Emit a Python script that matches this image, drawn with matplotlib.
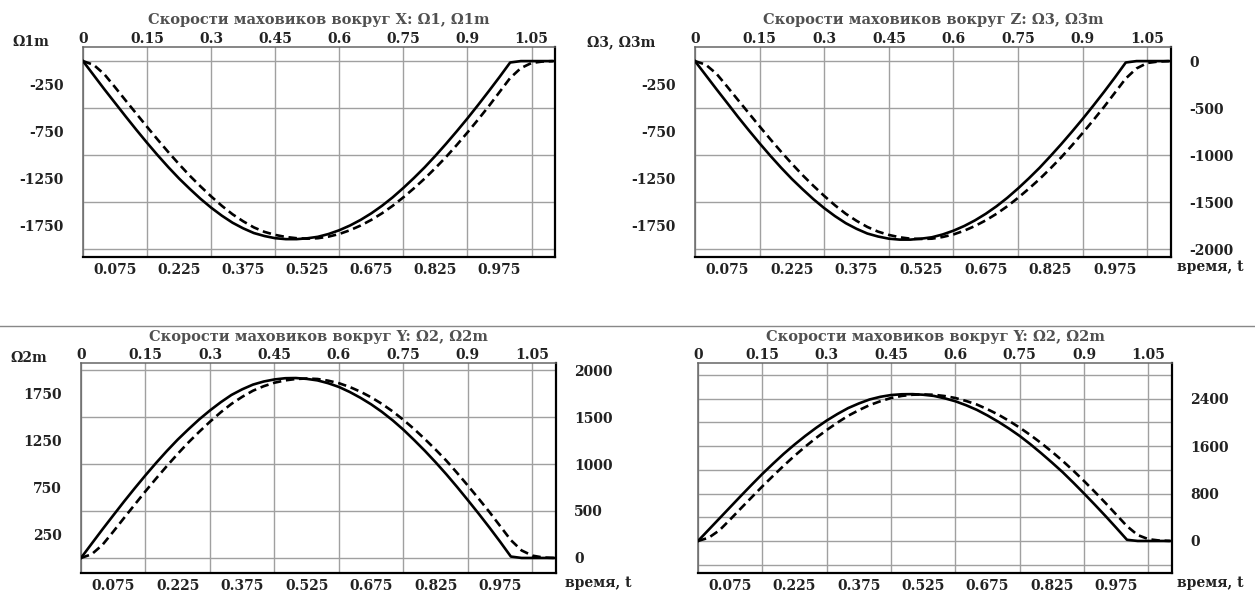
import matplotlib
matplotlib.use("Agg")
import matplotlib.pyplot as plt
from matplotlib.lines import Line2D

plt.rcParams['font.family'] = ['DejaVu Serif']
plt.rcParams['font.weight'] = 'bold'

# time samples, every 0.025 from 0 to 1.1
t = [round(i * 0.025, 3) for i in range(45)]

# X: Omega1 (solid) and Omega1m (dashed)
w1 = [0, -150, -300, -445, -590, -732, -870, -1003, -1130, -1250, -1360, -1465,
      -1560, -1645, -1720, -1780, -1830, -1862, -1885, -1895, -1895, -1886, -1870,
      -1840, -1800, -1750, -1690, -1620, -1540, -1450, -1350, -1243, -1130, -1008,
      -880, -747, -610, -467, -320, -170, -15, 0, 0, 0, 0]
w1m = [0, -40, -140, -278, -420, -560, -700, -837, -970, -1098, -1220, -1333,
       -1440, -1540, -1630, -1705, -1770, -1818, -1850, -1872, -1885, -1890, -1885,
       -1868, -1840, -1800, -1750, -1690, -1620, -1540, -1450, -1353, -1250, -1138,
       -1020, -893, -760, -622, -480, -330, -180, -75, -20, -5, 0]

# Z: Omega3 (solid) and Omega3m (dashed)
w3 = [0, -150, -300, -447, -595, -737, -875, -1008, -1135, -1255, -1365, -1470,
      -1565, -1650, -1725, -1785, -1835, -1867, -1890, -1900, -1900, -1890, -1875,
      -1845, -1805, -1755, -1695, -1625, -1545, -1455, -1355, -1248, -1135, -1012,
      -885, -752, -615, -472, -325, -173, -15, 0, 0, 0, 0]
w3m = [0, -38, -135, -273, -415, -555, -695, -832, -965, -1093, -1215, -1328,
       -1435, -1535, -1625, -1700, -1765, -1815, -1850, -1875, -1890, -1893, -1890,
       -1872, -1845, -1805, -1755, -1695, -1625, -1545, -1455, -1358, -1255, -1143,
       -1025, -898, -765, -627, -485, -335, -185, -78, -20, -5, 0]

# Y: Omega2 (solid) and Omega2m (dashed), left bottom chart
w2 = [0, 153, 305, 453, 600, 742, 880, 1013, 1140, 1260, 1370, 1475,
      1570, 1657, 1735, 1795, 1845, 1878, 1900, 1913, 1915, 1906, 1890,
      1860, 1820, 1767, 1705, 1635, 1555, 1465, 1365, 1255, 1140, 1018,
      890, 755, 615, 472, 325, 173, 15, 0, 0, 0, 0]
w2m = [0, 40, 140, 280, 425, 568, 710, 847, 980, 1108, 1230, 1343,
       1450, 1550, 1640, 1715, 1780, 1828, 1865, 1890, 1905, 1910, 1905,
       1887, 1860, 1820, 1770, 1710, 1640, 1560, 1470, 1372, 1265, 1153,
       1035, 905, 770, 632, 490, 340, 190, 80, 25, 5, 0]

# Y: second version, right bottom chart
w2b = [0, 190, 380, 570, 760, 947, 1130, 1303, 1470, 1625, 1770, 1905,
       2030, 2140, 2240, 2318, 2385, 2430, 2460, 2473, 2475, 2465, 2445,
       2405, 2355, 2288, 2210, 2115, 2010, 1895, 1770, 1630, 1480, 1323,
       1160, 983, 800, 612, 420, 222, 20, 0, 0, 0, 0]
w2bm = [0, 55, 180, 362, 550, 735, 920, 1097, 1270, 1435, 1590, 1735,
        1870, 1995, 2110, 2205, 2290, 2355, 2410, 2445, 2465, 2470, 2465,
        2443, 2410, 2360, 2300, 2220, 2130, 2025, 1910, 1785, 1650, 1505,
        1350, 1185, 1010, 828, 640, 445, 250, 100, 30, 8, 0]

top_ticks = [0, 0.15, 0.3, 0.45, 0.6, 0.75, 0.9, 1.05]
top_labels = ["0", "0.15", "0.3", "0.45", "0.6", "0.75", "0.9", "1.05"]
bottom_ticks = [0.075, 0.225, 0.375, 0.525, 0.675, 0.825, 0.975]
bottom_labels = ["0.075", "0.225", "0.375", "0.525", "0.675", "0.825", "0.975"]
grid_x = [i * 0.075 for i in range(15)]

titles = ["Скорости маховиков вокруг X: Ω1, Ω1m",
          "Скорости маховиков вокруг Z: Ω3, Ω3m",
          "Скорости маховиков вокруг Y: Ω2, Ω2m",
          "Скорости маховиков вокруг Y: Ω2, Ω2m"]

W, H = 1255, 591
fig = plt.figure(figsize=(W / 100, H / 100), dpi=100)
TXT = '#222222'
FS = 10


def rect(x0, x1, y0, y1):
    return [x0 / W, 1 - y1 / H, (x1 - x0) / W, (y1 - y0) / H]


def panel(r, solid, dashed, ylim, grid_y, left, right):
    ax = fig.add_axes(r)
    ax.plot(t, solid, color='black', lw=1.9, solid_joinstyle='round', zorder=3)
    ax.plot(t, dashed, color='black', lw=1.9, ls=(0, (3.2, 1.8)), zorder=3)
    ax.set_xlim(0, 1.105)
    ax.set_ylim(*ylim)
    ax.set_xticks(grid_x, minor=True)
    ax.set_yticks(grid_y, minor=True)
    ax.grid(which='minor', color='#a0a0a0', lw=1.0)
    ax.set_xticks(bottom_ticks, bottom_labels)
    if left:
        ax.set_yticks(left, [str(v) for v in left])
    else:
        ax.set_yticks([])
    ax.tick_params(which='both', length=0, labelsize=FS, labelcolor=TXT)
    ax.tick_params(axis='x', pad=4)
    ax.tick_params(axis='y', pad=14)
    for s in ('left', 'top'):
        ax.spines[s].set_color('#666666')
        ax.spines[s].set_linewidth(1.1)
    for s in ('right', 'bottom'):
        ax.spines[s].set_color('black')
        ax.spines[s].set_linewidth(1.6)
    sx = ax.secondary_xaxis('top')
    sx.set_xticks(top_ticks, top_labels)
    sx.tick_params(length=0, pad=1, labelsize=FS, labelcolor=TXT)
    sx.spines['top'].set_visible(False)
    if right:
        sy = ax.secondary_yaxis('right')
        sy.set_yticks(right, [str(v) for v in right])
        sy.tick_params(length=0, pad=13, labelsize=FS, labelcolor=TXT)
        sy.spines['right'].set_visible(False)
    return ax


top_grid = list(range(-2000, 1, 250))
ax1 = panel(rect(83, 555, 47, 257), w1, w1m, (-2085, 150), top_grid,
            [-250, -750, -1250, -1750], None)
ax2 = panel(rect(695, 1171, 47, 257), w3, w3m, (-2085, 150), top_grid,
            [-250, -750, -1250, -1750], [0, -500, -1000, -1500, -2000])
ax3 = panel(rect(81, 556, 363, 573), w2, w2m, (-160, 2075), list(range(0, 2001, 250)),
            [1750, 1250, 750, 250], [2000, 1500, 1000, 500, 0])
ax4 = panel(rect(698, 1172, 363, 573), w2b, w2bm, (-540, 3000), list(range(-400, 2801, 400)),
            None, [2400, 1600, 800, 0])

for ax, title, yc in zip([ax1, ax2, ax3, ax4], titles, [20, 20, 337, 337]):
    b = ax.get_position()
    fig.text(b.x0 + b.width / 2, 1 - yc / H, title, ha='center', va='center',
             fontsize=10.5, color='#505050')


def ftext(x, y, s, ha='left'):
    fig.text(x / W, 1 - y / H, s, ha=ha, va='center', fontsize=FS, color=TXT)


ftext(12, 42, "Ω1m")
ftext(587, 42, "Ω3, Ω3m")
ftext(10, 358, "Ω2m")
ftext(1177, 267, "время, t")
ftext(565, 583, "время, t")
ftext(1177, 583, "время, t")

fig.add_artist(Line2D([0, 1], [1 - 326 / H, 1 - 326 / H], transform=fig.transFigure,
                      color='#888888', lw=1.0))

fig.savefig("out.png", dpi=100, facecolor='white')
